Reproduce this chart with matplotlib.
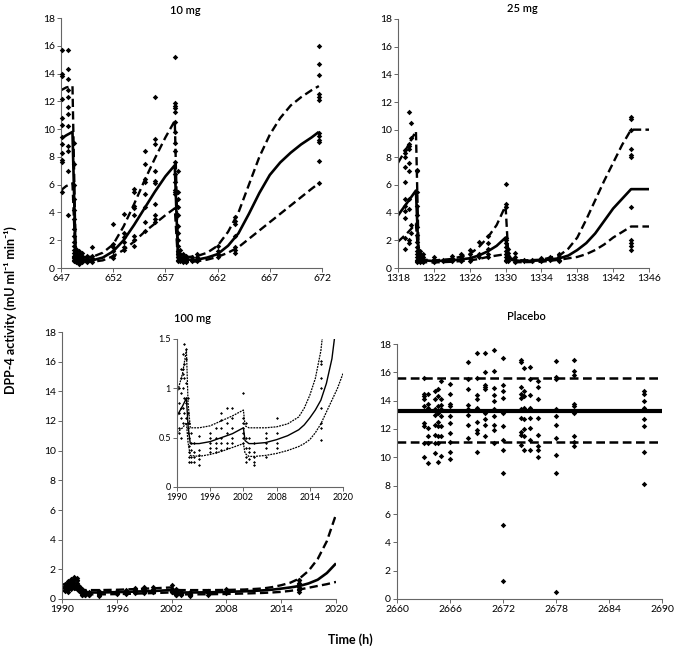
import matplotlib
matplotlib.use("Agg")
import matplotlib.pyplot as plt

plt.rcParams["font.family"] = ["Lato", "DejaVu Sans"]

# ---------------- 10 mg ----------------
T10 = [647, 647.5, 648.1, 648.4, 648.7, 649, 650, 651, 652, 653, 654, 655, 656, 657, 657.9,
       658.2, 658.5, 659, 660, 661, 662, 663, 664, 665, 666, 667, 668, 669, 670, 671, 671.7]
MED10 = [9.3, 9.55, 9.8, 0.9, 0.65, 0.6, 0.55, 0.75, 1.2, 2.0, 3.1, 4.3, 5.5, 6.6, 7.4,
         0.9, 0.65, 0.6, 0.6, 0.75, 1.0, 1.6, 2.5, 3.9, 5.4, 6.7, 7.6, 8.3, 8.9, 9.4, 9.8]
HI10 = [12.8, 13.0, 13.1, 1.2, 0.85, 0.78, 0.8, 1.1, 1.7, 3.0, 4.6, 6.3, 7.9, 9.4, 10.6,
        1.2, 0.85, 0.78, 0.85, 1.1, 1.6, 2.6, 4.0, 6.0, 8.0, 9.6, 10.8, 11.7, 12.3, 12.8, 13.1]
LO10 = [5.6, 5.9, 6.1, 0.55, 0.45, 0.43, 0.45, 0.55, 0.85, 1.3, 1.9, 2.6, 3.2, 3.8, 4.3,
        0.55, 0.45, 0.43, 0.48, 0.6, 0.8, 1.1, 1.5, 2.1, 2.7, 3.3, 3.9, 4.5, 5.1, 5.7, 6.1]
OBS10_T = [647.1, 647.7, 648.2, 648.4, 648.7, 649.0, 649.5, 650, 652, 653, 654, 655, 656,
           657.9, 658.2, 658.4, 658.7, 659.0, 659.5, 660, 662, 663.7, 671.7]
OBS10_Y = [
    [15.7, 14.0, 13.8, 12.2, 10.8, 10.3, 9.4, 8.9, 8.3, 7.8, 7.6, 5.5],
    [15.7, 14.3, 13.6, 12.8, 12.3, 11.6, 11.1, 10.2, 8.8, 8.4, 7.0, 3.8],
    [9.0, 7.5, 6.0, 5.0, 4.2, 3.5, 2.8, 2.3, 1.9, 1.6, 1.3, 1.1, 0.9, 0.8, 0.7, 0.6, 0.5],
    [1.4, 1.2, 1.0, 0.9, 0.8, 0.7, 0.6, 0.5, 0.4],
    [1.2, 1.0, 0.8, 0.6, 0.5, 0.4, 0.3],
    [1.1, 0.9, 0.7, 0.6, 0.5, 0.4],
    [0.9, 0.7, 0.6, 0.5, 0.4],
    [1.5, 0.9, 0.7, 0.55, 0.45],
    [3.2, 1.7, 1.5, 1.2, 0.9, 0.7],
    [3.9, 2.5, 2.2, 1.9, 1.5, 1.3],
    [5.7, 5.5, 4.5, 4.3, 3.8, 2.3, 2.0, 1.6],
    [8.4, 7.5, 6.4, 6.2, 5.3, 4.4, 3.3, 2.7],
    [12.3, 9.3, 8.9, 7.0, 6.3, 6.1, 4.6, 3.8, 3.5, 3.3],
    [15.2, 11.9, 11.7, 11.5, 11.2, 10.5, 9.8, 9.0, 8.4, 7.6, 6.8, 6.2, 5.6, 5.5, 5.3],
    [7.0, 5.5, 5.0, 4.4, 3.8, 3.0, 2.5, 2.0, 1.6, 1.2, 1.0, 0.8, 0.6, 0.5],
    [1.3, 1.0, 0.8, 0.6, 0.5],
    [1.0, 0.8, 0.6, 0.4],
    [0.9, 0.7, 0.5, 0.4],
    [0.8, 0.6, 0.5],
    [1.0, 0.8, 0.6, 0.5],
    [1.6, 1.2, 1.0, 0.8],
    [3.7, 3.4, 3.2, 2.3, 1.5, 1.3, 1.1],
    [16.0, 14.7, 13.9, 12.5, 12.3, 12.1, 9.7, 9.5, 9.2, 9.1, 7.7, 6.1],
]

# ---------------- 25 mg ----------------
T25 = [1318, 1319, 1320.0, 1320.3, 1320.6, 1321, 1322, 1324, 1326, 1327, 1328, 1329, 1330.0,
       1330.3, 1330.6, 1331, 1332, 1334, 1336, 1337, 1338, 1339, 1340, 1341, 1342, 1343, 1344, 1346]
MED25 = [3.8, 4.7, 5.6, 0.9, 0.6, 0.55, 0.5, 0.55, 0.7, 0.9, 1.2, 1.6, 2.2,
         0.8, 0.6, 0.55, 0.5, 0.55, 0.7, 0.9, 1.3, 1.8, 2.5, 3.4, 4.3, 5.0, 5.7, 5.7]
HI25 = [7.6, 8.7, 9.9, 1.2, 0.7, 0.6, 0.55, 0.65, 1.0, 1.5, 2.2, 3.1, 4.5,
        1.0, 0.7, 0.6, 0.55, 0.6, 0.9, 1.4, 2.2, 3.5, 4.9, 6.3, 7.6, 8.9, 10.0, 10.0]
LO25 = [1.9, 2.5, 3.2, 0.6, 0.45, 0.42, 0.4, 0.45, 0.55, 0.65, 0.8, 0.9, 1.0,
        0.5, 0.42, 0.42, 0.42, 0.45, 0.6, 0.7, 0.8, 1.0, 1.3, 1.7, 2.2, 2.6, 3.0, 3.0]
OBS25_T = [1318.8, 1319.2, 1319.5, 1320.1, 1320.4, 1320.8, 1322, 1323, 1324, 1325, 1326, 1327,
           1328, 1330.0, 1330.3, 1331, 1332, 1333, 1334, 1335, 1336, 1344]
OBS25_Y = [
    [8.5, 8.3, 8.0, 7.3, 6.2, 5.0, 4.5, 4.1, 3.6, 2.2, 1.4],
    [11.3, 9.0, 8.8, 8.6, 7.6, 7.0, 5.0, 4.3, 2.0, 1.8],
    [10.5, 9.4, 3.1, 2.5],
    [7.1, 7.0, 5.5, 4.5, 3.8, 3.0, 2.4, 1.9, 1.5, 1.2, 1.0, 0.8, 0.6, 0.5, 0.4],
    [1.2, 1.0, 0.8, 0.6, 0.5, 0.4],
    [1.0, 0.8, 0.6, 0.5, 0.4],
    [0.8, 0.6, 0.5, 0.4],
    [0.6, 0.5],
    [0.9, 0.7, 0.5],
    [1.0, 0.8, 0.6, 0.5],
    [1.3, 1.0, 0.7, 0.5],
    [1.9, 1.0, 0.8],
    [2.3, 1.8, 1.4, 1.0, 0.8],
    [6.1, 4.6, 4.4, 2.2, 2.0, 1.8, 1.5, 1.2, 1.0, 0.8, 0.6, 0.5],
    [1.4, 1.1, 0.9, 0.7, 0.5],
    [1.1, 0.8, 0.6, 0.4],
    [0.6, 0.5],
    [0.6, 0.5],
    [0.7, 0.6, 0.5],
    [0.8, 0.6],
    [1.0, 0.8, 0.6, 0.5],
    [10.9, 10.8, 10.0, 8.6, 8.2, 8.0, 4.4, 2.0, 1.8, 1.6, 1.3],
]

# ---------------- 100 mg ----------------
T100 = [1990, 1991, 1991.7, 1992.0, 1992.4, 1994, 1996, 1998, 2000, 2002.0, 2002.3, 2003, 2004,
        2006, 2008, 2010, 2012, 2013, 2014, 2015, 2016, 2017, 2018, 2019, 2020]
MED100 = [0.72, 0.82, 0.9, 0.62, 0.44, 0.44, 0.46, 0.5, 0.54, 0.6, 0.47, 0.44, 0.44,
          0.45, 0.48, 0.52, 0.58, 0.63, 0.7, 0.78, 0.88, 1.05, 1.3, 1.75, 2.4]
HI100 = [0.95, 1.15, 1.39, 0.85, 0.6, 0.6, 0.62, 0.67, 0.72, 0.78, 0.62, 0.6, 0.6,
         0.6, 0.61, 0.64, 0.71, 0.8, 0.93, 1.1, 1.38, 1.9, 2.7, 3.9, 5.7]
LO100 = [0.55, 0.6, 0.65, 0.45, 0.32, 0.31, 0.33, 0.36, 0.4, 0.44, 0.34, 0.31, 0.31,
         0.32, 0.34, 0.37, 0.41, 0.44, 0.48, 0.55, 0.64, 0.76, 0.88, 1.0, 1.15]
OBS100_T = [1990.3, 1990.7, 1991.0, 1991.3, 1991.6, 1991.9, 1992.2, 1992.5, 1993, 1994, 1996,
            1997, 1998, 1999, 2000, 2002, 2002.5, 2003, 2004, 2006, 2008, 2016]
OBS100_Y = [
    [1.0, 0.85, 0.75, 0.6, 0.55],
    [1.2, 1.1, 0.95, 0.8, 0.7, 0.5],
    [1.35, 1.2, 1.15, 1.0, 0.8, 0.65],
    [1.45, 1.25, 1.1, 0.9, 0.75],
    [1.4, 1.3, 1.05, 0.9, 0.85, 0.7],
    [0.9, 0.75, 0.65, 0.6, 0.55],
    [0.65, 0.5, 0.42, 0.35, 0.3, 0.25],
    [0.55, 0.45, 0.38, 0.3, 0.25],
    [0.45, 0.35, 0.3, 0.25],
    [0.52, 0.38, 0.32, 0.28, 0.22],
    [0.55, 0.5, 0.45, 0.4, 0.35],
    [0.6, 0.5, 0.45, 0.4, 0.35],
    [0.75, 0.68, 0.6, 0.5, 0.45, 0.38],
    [0.8, 0.65, 0.55, 0.45, 0.4],
    [0.8, 0.7, 0.6, 0.5, 0.45],
    [0.95, 0.7, 0.65, 0.6, 0.55, 0.5, 0.45],
    [0.65, 0.5, 0.4, 0.3, 0.25],
    [0.5, 0.4, 0.35, 0.28],
    [0.45, 0.35, 0.3, 0.25, 0.22],
    [0.55, 0.5, 0.45, 0.4, 0.3],
    [0.7, 0.55, 0.45, 0.4],
    [1.28, 1.25, 1.1, 1.0, 0.8, 0.65, 0.6, 0.48],
]

# ---------------- Placebo ----------------
TPL = [2660, 2690]
MEDPL = [13.3, 13.3]
HIPL = [15.6, 15.6]
LOPL = [11.1, 11.1]
OBSPL_T = [2663, 2663.5, 2664.3, 2664.6, 2665, 2666, 2668, 2669, 2670, 2671, 2672,
           2674, 2674.4, 2675, 2676, 2678, 2680, 2688]
OBSPL_Y = [
    [15.6, 14.5, 14.3, 14.1, 13.6, 12.4, 12.2, 11.0, 10.0],
    [14.5, 13.8, 13.5, 12.1, 11.5, 11.0, 9.6],
    [14.7, 14.1, 13.4, 13.0, 12.3, 11.6, 11.0, 10.3],
    [14.8, 14.3, 13.6, 13.1, 12.5, 12.2, 11.5, 11.0, 9.7],
    [15.4, 14.1, 13.7, 13.4, 12.9, 12.2, 11.5, 10.1],
    [15.2, 14.5, 13.8, 13.6, 12.9, 12.4, 11.7, 11.1, 10.4, 9.9],
    [16.7, 15.5, 14.8, 13.7, 13.4, 13.0, 12.3, 11.4],
    [17.4, 15.6, 14.4, 14.1, 13.5, 12.5, 11.9, 11.7, 10.4],
    [17.4, 16.0, 15.1, 15.0, 14.8, 13.1, 12.7, 12.3, 11.5],
    [17.6, 16.1, 14.9, 14.4, 14.0, 13.4, 12.9, 12.3, 11.9, 11.0],
    [17.0, 15.1, 14.7, 14.2, 13.1, 12.2, 11.2, 10.5, 8.9, 5.2, 1.3],
    [16.9, 16.7, 15.0, 14.5, 14.2, 13.4, 12.8, 11.8, 11.6, 10.9],
    [16.3, 14.7, 14.3, 13.5, 12.7, 12.0, 11.5, 10.5],
    [16.4, 15.5, 14.4, 13.5, 12.8, 12.1, 11.2, 10.5],
    [15.4, 15.0, 14.1, 12.8, 11.6, 10.8, 10.5, 10.0],
    [16.8, 15.7, 15.5, 13.4, 12.9, 12.3, 11.4, 10.2, 8.9, 0.5],
    [16.9, 16.1, 15.8, 13.8, 13.6, 13.1, 11.5, 11.1, 10.8],
    [14.7, 14.5, 14.0, 13.5, 13.4, 12.7, 12.2, 10.4, 8.1],
]

W, H = 675, 650
AXIS_COLOR = "#666666"
DASH = (0, (3.5, 1.8))


def box(x0, y0, x1, y1):
    # pixel box (top-left origin) -> figure fraction rect
    return [x0 / W, 1 - y1 / H, (x1 - x0) / W, (y1 - y0) / H]


def style_axes(ax, xticks, yticks, size=7.5):
    for side in ("top", "right"):
        ax.spines[side].set_visible(False)
    for side in ("left", "bottom"):
        ax.spines[side].set_color(AXIS_COLOR)
        ax.spines[side].set_linewidth(0.8)
    ax.set_xticks(xticks)
    ax.set_yticks(yticks)
    ax.set_xlim(xticks[0], xticks[-1])
    ax.set_ylim(yticks[0], yticks[-1])
    ax.tick_params(direction="out", length=3, width=0.7, color=AXIS_COLOR,
                   labelsize=size, pad=1.5)


def scatter_obs(ax, times, values, ms=2.8, clip=False):
    xs, ys = [], []
    for t, vals in zip(times, values):
        xs.extend([t] * len(vals))
        ys.extend(vals)
    ax.plot(xs, ys, ls="none", marker="D", ms=ms, color="black", mew=0, clip_on=clip, zorder=3)


def curves(ax, t, med, lo, hi, lw=1.7, med_lw=1.9, dash=DASH):
    ax.plot(t, med, color="black", lw=med_lw, solid_capstyle="butt", zorder=2)
    ax.plot(t, hi, color="black", lw=lw, ls=dash, zorder=2)
    ax.plot(t, lo, color="black", lw=lw, ls=dash, zorder=2)


fig = plt.figure(figsize=(6.75, 6.5), dpi=100)

yt = list(range(0, 19, 2))

ax1 = fig.add_axes(box(61, 18, 322, 268))
curves(ax1, T10, MED10, LO10, HI10)
scatter_obs(ax1, OBS10_T, OBS10_Y)
style_axes(ax1, list(range(647, 673, 5)), yt)

ax2 = fig.add_axes(box(398, 19, 649, 268))
curves(ax2, T25, MED25, LO25, HI25)
scatter_obs(ax2, OBS25_T, OBS25_Y)
style_axes(ax2, list(range(1318, 1347, 4)), yt)

ax3 = fig.add_axes(box(62, 332, 336, 599))
curves(ax3, T100, MED100, LO100, HI100)
scatter_obs(ax3, OBS100_T, OBS100_Y)
style_axes(ax3, list(range(1990, 2021, 6)), yt)

ax4 = fig.add_axes(box(397, 344, 662, 599))
ax4.plot(TPL, MEDPL, color="black", lw=3.0, zorder=2)
ax4.plot(TPL, HIPL, color="black", lw=1.8, ls=DASH, zorder=2)
ax4.plot(TPL, LOPL, color="black", lw=1.8, ls=DASH, zorder=2)
scatter_obs(ax4, OBSPL_T, OBSPL_Y)
style_axes(ax4, list(range(2660, 2691, 6)), yt)

# inset of the 100 mg panel
axi = fig.add_axes(box(177, 339, 343, 487))
curves(axi, T100, MED100, LO100, HI100, lw=0.9, med_lw=1.0, dash=(0, (1.5, 0.8)))
scatter_obs(axi, OBS100_T, OBS100_Y, ms=1.5, clip=True)
style_axes(axi, list(range(1990, 2021, 6)), [0, 0.5, 1, 1.5], size=6.5)
axi.set_yticklabels(["0", "0.5", "1", "1.5"])

title_kw = dict(fontsize=8, fontweight="semibold", ha="center", va="center")
fig.text(185 / W, 1 - 11 / H, "10 mg", **title_kw)
fig.text(522 / W, 1 - 9 / H, "25 mg", **title_kw)
fig.text(193 / W, 1 - 318 / H, "100 mg", **title_kw)
fig.text(526 / W, 1 - 317 / H, "Placebo", **title_kw)

fig.text(10 / W, 1 - 310 / H, "DPP-4 activity (mU ml\u207b\u00b9 min\u207b\u00b9)", rotation=90,
         fontsize=9, fontweight="bold", ha="center", va="center")
fig.text(350 / W, 1 - 640 / H, "Time (h)", fontsize=9, fontweight="bold", ha="center", va="center")

fig.savefig("out.png", dpi=100)
